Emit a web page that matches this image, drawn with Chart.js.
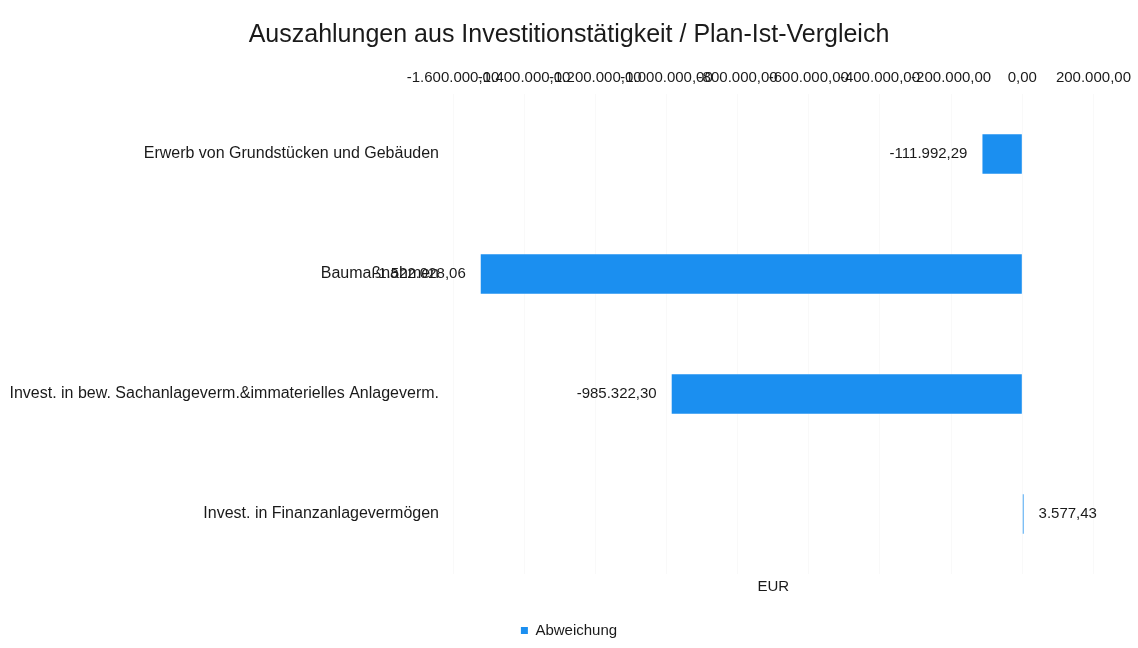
<!DOCTYPE html>
<html lang="de">
<head>
<meta charset="utf-8">
<title>Auszahlungen aus Investitionstätigkeit</title>
<script src="https://cdn.jsdelivr.net/npm/chart.js@4.4.1/dist/chart.umd.min.js"></script>
<style>
    html, body { margin: 0; padding: 0; background: #fff; }
    #wrap { position: relative; width: 1138px; height: 648px; }
</style>
</head>
<body>
<div id="wrap"><canvas id="chart"></canvas></div>
<script>
const categories = [
    'Erwerb von Grundstücken und Gebäuden',
    'Baumaßnahmen',
    'Invest. in bew. Sachanlageverm.&immaterielles Anlageverm.',
    'Invest. in Finanzanlagevermögen'
];
const abweichung = [-111992.29, -1522028.06, -985322.30, 3577.43];
const axisMin = -1600000;
const axisMax = 200000;
const axisStep = 200000;

const FONT = '"Liberation Sans", Arial, sans-serif';
const TEXT = '#1a1a1a';
const BAR = '#1b8ff0';

// German number format: 1.234.567,89
function formatEUR(v) {
    const neg = v < 0;
    const parts = Math.abs(v).toFixed(2).split('.');
    const int = parts[0].replace(/\B(?=(\d{3})+(?!\d))/g, '.');
    return (neg ? '-' : '') + int + ',' + parts[1];
}

// value labels at the outer end of every bar
const valueLabels = {
    id: 'valueLabels',
    afterDatasetsDraw(chart) {
        const ctx = chart.ctx;
        ctx.save();
        ctx.font = '15px ' + FONT;
        ctx.fillStyle = TEXT;
        ctx.textBaseline = 'middle';
        chart.getDatasetMeta(0).data.forEach((bar, i) => {
            const v = chart.data.datasets[0].data[i];
            if (v < 0) {
                ctx.textAlign = 'right';
                ctx.fillText(formatEUR(v), bar.x - 15, bar.y);
            } else {
                ctx.textAlign = 'left';
                ctx.fillText(formatEUR(v), bar.x + 15, bar.y);
            }
        });
        ctx.restore();
    }
};

new Chart(document.getElementById('chart'), {
    type: 'bar',
    data: {
        labels: categories,
        datasets: [{
            label: 'Abweichung',
            data: abweichung,
            backgroundColor: BAR,
            barPercentage: 0.66,
            categoryPercentage: 0.5,
            xAxisID: 'x'
        }]
    },
    plugins: [valueLabels],
    options: {
        indexAxis: 'y',
        responsive: true,
        maintainAspectRatio: false,
        animation: false,
        layout: { padding: 0 },
        plugins: {
            title: {
                display: true,
                text: 'Auszahlungen aus Investitionstätigkeit / Plan-Ist-Vergleich',
                color: TEXT,
                font: { family: FONT, size: 25, weight: 'normal' },
                padding: { top: 20, bottom: 12 }
            },
            legend: {
                position: 'bottom',
                labels: {
                    color: TEXT,
                    font: { family: FONT, size: 15 },
                    boxWidth: 7,
                    boxHeight: 7,
                    padding: 7
                }
            },
            tooltip: { enabled: false }
        },
        scales: {
            x: {
                position: 'top',
                min: axisMin,
                max: axisMax,
                border: { display: false },
                grid: { color: 'rgba(0,0,0,0.025)', drawTicks: false },
                ticks: {
                    stepSize: axisStep,
                    autoSkip: false,
                    maxRotation: 0,
                    minRotation: 0,
                    padding: 7,
                    color: TEXT,
                    font: { family: FONT, size: 15 },
                    callback: v => formatEUR(v)
                }
            },
            x2: {
                position: 'bottom',
                min: axisMin,
                max: axisMax,
                border: { display: false },
                grid: { display: false, drawTicks: false },
                ticks: { display: false },
                title: {
                    display: true,
                    text: 'EUR',
                    color: TEXT,
                    font: { family: FONT, size: 15 },
                    padding: { top: 4, bottom: 20 }
                }
            },
            y: {
                border: { display: false },
                grid: { display: false, drawTicks: false },
                afterFit(scale) { scale.width = 453; },
                ticks: {
                    padding: 14,
                    color: TEXT,
                    font: { family: FONT, size: 16 }
                }
            }
        }
    }
});
</script>
</body>
</html>
